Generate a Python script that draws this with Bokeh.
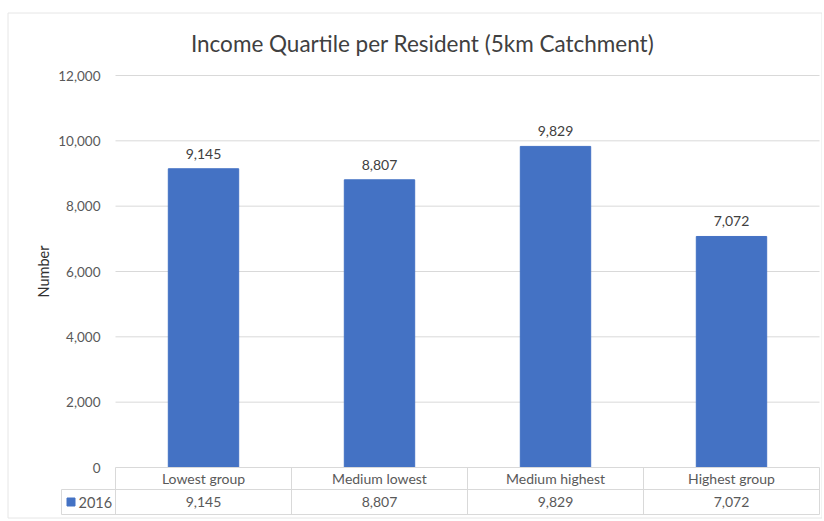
from bokeh.plotting import figure
from bokeh.models import Range1d
from bokeh.core.properties import value
from bokeh.embed import file_html
from bokeh.resources import INLINE

# ---------------- data ----------------
categories = ["Lowest group", "Medium lowest", "Medium highest", "Highest group"]
values_2016 = [9145, 8807, 9829, 7072]
series_name = "2016"
y_ticks = [0, 2000, 4000, 6000, 8000, 10000, 12000]
y_tick_labels = ["0", "2,000", "4,000", "6,000", "8,000", "10,000", "12,000"]
title_text = "Income Quartile per Resident (5km Catchment)"
y_label = "Number"

# ---------------- layout (pixels, figure-local) ----------------
W, H = 822, 519
n = len(categories)
tbl_left_px, tbl_right_px = 115, 819
zero_px, top_px = 467, 75          # y pixel of 0 and of 12000
sx = (tbl_right_px - tbl_left_px) / n
sy = (zero_px - top_px) / y_ticks[-1]

def dx(px):
    return (px - tbl_left_px) / sx

def dy(px):
    return (zero_px - px) / sy

BAR = "#4472C4"
GRID = "#d9d9d9"
TXT = "#595959"
DARK = "#404040"
FONT = value("Lato")

p = figure(width=W, height=H, output_backend="svg", toolbar_location=None,
           x_range=Range1d(dx(0), dx(W)), y_range=Range1d(dy(H), dy(0)),
           x_axis_location=None, y_axis_location=None, min_border=0)
p.xgrid.visible = False
p.ygrid.visible = False
p.outline_line_color = None
p.background_fill_color = "white"
p.border_fill_color = "white"

# chart border
p.quad(left=[dx(7.5)], right=[dx(821.5)], bottom=[dy(517.5)], top=[dy(12.5)],
       fill_color=None, line_color="#e6e6e6", line_width=1)

# gridlines
gy = y_ticks[1:]
p.segment(x0=[0] * len(gy), y0=gy, x1=[n] * len(gy), y1=gy, line_color=GRID, line_width=1)

# bars
xs = [i + 0.5 for i in range(n)]
p.vbar(x=xs, top=values_2016, width=0.4, color=BAR)

# data labels
p.text(x=xs, y=values_2016, text=[f"{v:,}" for v in values_2016], y_offset=-10,
       text_align="center", text_baseline="bottom", text_font=FONT,
       text_font_size="14px", text_color=DARK)

# y tick labels
p.text(x=[dx(100)] * len(y_ticks), y=y_ticks, text=y_tick_labels, text_align="right",
       text_baseline="middle", text_font=FONT, text_font_size="13.5px", text_color=TXT)

# y axis label
p.text(x=[dx(43)], y=[dy((zero_px + top_px) / 2)], text=[y_label], angle=1.5708,
       text_align="center", text_baseline="middle", text_font=FONT,
       text_font_size="14.5px", text_color="#303030")

# title
p.text(x=[dx(422)], y=[dy(43)], text=[title_text], text_align="center",
       text_baseline="middle", text_font=FONT, text_font_size="22.5px", text_color=DARK)

# data table
row1 = dy(489)
row2 = dy(514)
leg_left = dx(61)
hx0 = [0, leg_left, leg_left]
hy = [0, row1, row2]
hx1 = [n, n, n]
p.segment(x0=hx0, y0=hy, x1=hx1, y1=hy, line_color=GRID, line_width=1)
vx = list(range(n + 1)) + [leg_left]
vy0 = [0] * (n + 1) + [row1]
p.segment(x0=vx, y0=vy0, x1=vx, y1=[row2] * (n + 2), line_color=GRID, line_width=1)

p.text(x=xs, y=[(0 + row1) / 2] * n, text=categories, text_align="center",
       text_baseline="middle", text_font=FONT, text_font_size="14px", text_color=TXT)
p.text(x=xs, y=[(row1 + row2) / 2] * n, text=[f"{v:,}" for v in values_2016],
       text_align="center", text_baseline="middle", text_font=FONT,
       text_font_size="14px", text_color=TXT)

# legend key in table
p.scatter(x=[dx(70.5)], y=[(row1 + row2) / 2], marker="square", size=8,
          color=BAR, line_color=BAR)
p.text(x=[dx(78)], y=[(row1 + row2) / 2], text=[series_name], text_align="left",
       text_baseline="middle", text_font=FONT, text_font_size="14.5px", text_color=TXT)

open("out.html", "w").write(file_html(p, INLINE))
